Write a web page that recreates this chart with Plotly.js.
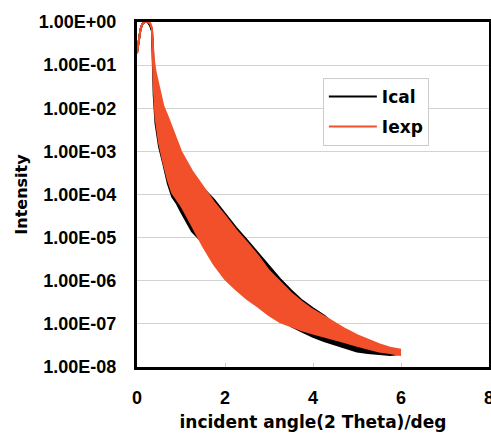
<!DOCTYPE html>
<html>
<head>
<meta charset="utf-8">
<script src="https://cdn.plot.ly/plotly-3.0.1.min.js"></script>
<style>
html,body{margin:0;padding:0;background:#fff;}
#chart{width:491px;height:434px;}
</style>
</head>
<body>
<div id="chart"></div>
<script>
// incident angle (2 Theta) / deg, sample positions along the curves
var angle = [0, 0.04, 0.08, 0.12, 0.18, 0.24, 0.3, 0.34, 0.36, 0.38, 0.42, 0.5, 0.6, 0.7, 0.8, 0.9, 1.0,
             1.25, 1.5, 1.75, 2.0, 2.25, 2.5, 2.75, 3.0, 3.25, 3.5, 3.75, 4.0, 4.25, 4.5, 4.75,
             5.0, 5.25, 5.5, 5.75, 6.0];

// Ical: upper and lower envelope of the fringes
var icalUpper = [0.19, 0.4, 0.68, 0.89, 1.0, 1.0, 0.83, 0.63, 0.25, 0.1, 0.05, 0.025, 8.9e-3, 5.0e-3, 2.8e-3, 1.5e-3, 8.3e-4,
                 3.2e-4, 1.4e-4, 7.6e-5, 3.5e-5, 1.7e-5, 8.7e-6, 4.4e-6, 2.1e-6, 1.1e-6, 6.0e-7, 3.5e-7, 2.3e-7, 1.55e-7, 9.5e-8, 6.6e-8,
                 5.0e-8, 3.8e-8, 3.0e-8, 2.5e-8, 2.3e-8];
var icalLower = [0.19, 0.4, 0.68, 0.89, 1.0, 1.0, 0.83, 0.63, 0.063, 0.02, 4.5e-3, 1.3e-3, 5.0e-4, 1.8e-4, 8.9e-5, 6.3e-5, 4.0e-5,
                 1.4e-5, 7.6e-6, 4.0e-6, 2.2e-6, 1.3e-6, 7.1e-7, 4.0e-7, 2.2e-7, 1.4e-7, 8.9e-8, 6.6e-8, 5.0e-8, 4.0e-8, 3.3e-8, 2.8e-8,
                 2.3e-8, 2.1e-8, 2.0e-8, 1.9e-8, 2.0e-8];

// Iexp: upper and lower envelope of the fringes
var iexpUpper = [0.19, 0.4, 0.68, 0.89, 1.0, 1.0, 0.93, 0.71, 0.35, 0.14, 0.071, 0.032, 0.011, 6.3e-3, 3.5e-3, 1.8e-3, 1.0e-3,
                 3.5e-4, 1.5e-4, 6.6e-5, 3.2e-5, 1.5e-5, 7.6e-6, 3.8e-6, 1.7e-6, 9.3e-7, 5.2e-7, 3.2e-7, 2.1e-7, 1.5e-7, 1.05e-7, 7.4e-8,
                 5.5e-8, 4.3e-8, 3.4e-8, 2.8e-8, 2.5e-8];
var iexpLower = [0.19, 0.4, 0.68, 0.89, 1.0, 1.0, 0.93, 0.71, 0.16, 0.032, 6.3e-3, 1.6e-3, 5.6e-4, 2.2e-4, 1.1e-4, 7.9e-5, 5.6e-5,
                 1.9e-5, 6.3e-6, 2.4e-6, 1.1e-6, 6.3e-7, 3.8e-7, 2.5e-7, 1.6e-7, 1.1e-7, 8.7e-8, 7.1e-8, 6.0e-8, 5.1e-8, 4.5e-8, 3.7e-8,
                 3.1e-8, 2.7e-8, 2.3e-8, 2.1e-8, 1.9e-8];

var yTickVals = [1, 1e-1, 1e-2, 1e-3, 1e-4, 1e-5, 1e-6, 1e-7, 1e-8];
var yTickText = ["1.00E+00", "1.00E-01", "1.00E-02", "1.00E-03", "1.00E-04", "1.00E-05", "1.00E-06", "1.00E-07", "1.00E-08"];
var xTickVals = [0, 2, 4, 6, 8];

var black = "#000000";
var orange = "#F2502A";

var traces = [
  {x: angle, y: icalUpper, type: "scatter", mode: "lines", name: "Ical", legendgroup: "cal",
   line: {color: black, width: 2}, showlegend: true},
  {x: angle, y: icalLower, type: "scatter", mode: "lines", name: "Ical", legendgroup: "cal",
   line: {color: black, width: 2}, fill: "tonexty", fillcolor: black, showlegend: false},
  {x: angle, y: iexpUpper, type: "scatter", mode: "lines", name: "Iexp", legendgroup: "exp",
   line: {color: orange, width: 2}, showlegend: true},
  {x: angle, y: iexpLower, type: "scatter", mode: "lines", name: "Iexp", legendgroup: "exp",
   line: {color: orange, width: 2}, fill: "tonexty", fillcolor: orange, showlegend: false}
];

var fontFam = "Liberation Sans, Arial, sans-serif";
var titleFam = "DejaVu Sans, sans-serif";

var layout = {
  width: 491, height: 434,
  margin: {l: 137, r: 2, t: 22, b: 67},
  paper_bgcolor: "#ffffff", plot_bgcolor: "#ffffff",
  font: {family: fontFam, color: "#000", size: 16},
  showlegend: true,
  legend: {
    x: 0.528, y: 0.838, xanchor: "left", yanchor: "top",
    bordercolor: "#cccccc", borderwidth: 1, bgcolor: "#ffffff",
    font: {family: titleFam, size: 17, weight: "bold"},
    traceorder: "grouped", tracegroupgap: 5,
    itemwidth: 48
  },
  xaxis: {
    range: [0, 8], tickvals: xTickVals, ticktext: xTickVals.map(String),
    showgrid: false, zeroline: false,
    showline: true, linecolor: "#000", linewidth: 3, mirror: true,
    ticks: "inside", ticklen: 4, tickcolor: "#cccccc", tickwidth: 1,
    tickfont: {family: fontFam, size: 18, weight: "bold"},
    ticklabelstandoff: 12,
    ticklabeloverflow: "allow",
    title: {text: "incident angle(2 Theta)/deg", font: {family: titleFam, size: 17, weight: "bold"}, standoff: 10}
  },
  yaxis: {
    type: "log", range: [-8, 0],
    tickvals: yTickVals, ticktext: yTickText,
    showgrid: true, gridcolor: "#d3d3d3", gridwidth: 1,
    zeroline: false,
    showline: true, linecolor: "#000", linewidth: 3, mirror: true,
    ticks: "",
    tickfont: {family: fontFam, size: 18, weight: "bold"},
    ticklabelstandoff: 14,
    title: {text: "Intensity", font: {family: titleFam, size: 16, weight: "bold"}, standoff: 8}
  }
};

Plotly.newPlot("chart", traces, layout, {displayModeBar: false, staticPlot: true});
</script>
</body>
</html>
